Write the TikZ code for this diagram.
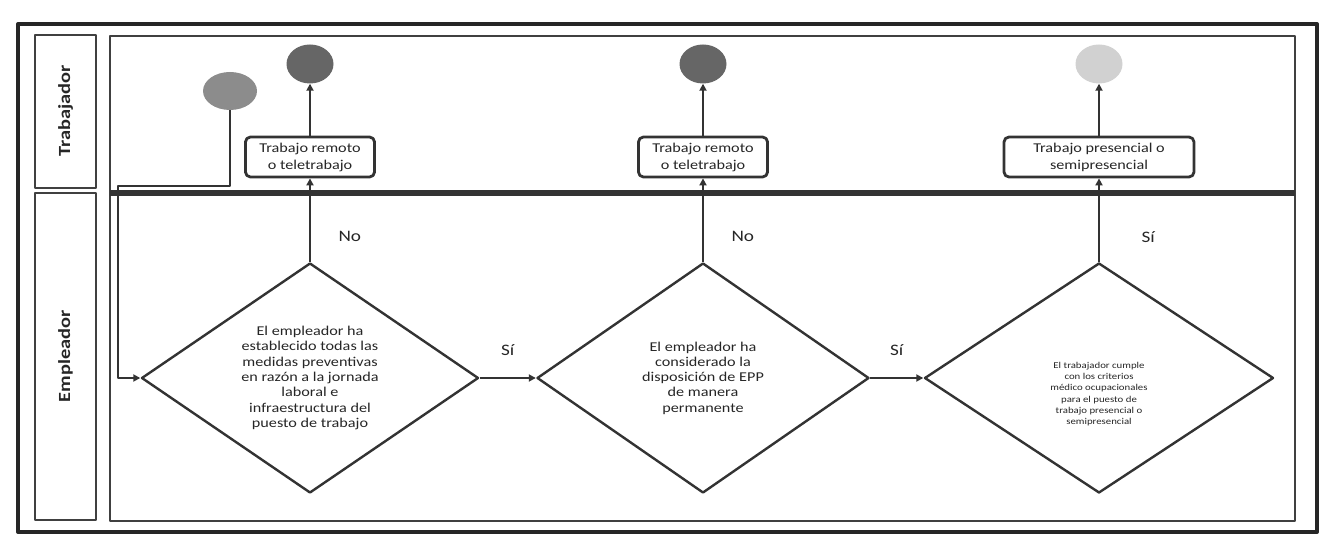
\documentclass[tikz,border=0pt]{standalone}
\usepackage{fontspec}
\setmainfont[FakeStretch=1.2]{Carlito}
\usetikzlibrary{shapes.geometric,arrows.meta,positioning}

\begin{document}
\begin{tikzpicture}[x=1pt,y=-1pt,>={Triangle[length=7pt,width=7pt]},line join=round,
   every node/.style={font=\fontsize{13.5}{17}\selectfont,align=center,text=black!85},
   decision/.style={diamond,draw=black!80,line width=2.4pt,aspect=1.46,inner sep=0pt,
     minimum height=230pt,font=\fontsize{13.5}{15.3}\selectfont},
   result/.style={rectangle,rounded corners=5pt,draw=black!80,line width=2.8pt,
     minimum height=40pt,inner xsep=14pt,fill=white},
   terminal/.style={ellipse,minimum width=47pt,minimum height=39pt,inner sep=0pt},
   flow/.style={->,draw=black!80,line width=2.4pt},
   answer/.style={font=\fontsize{16}{18}\selectfont},
   lanetitle/.style={rotate=90,font=\bfseries\fontsize{17}{20}\selectfont}]
  \useasboundingbox (0,0) rectangle (1324,553);
  % marco y carriles
  \draw[line width=4pt,black!85] (18,24) rectangle (1317,532);
  \draw[line width=2.2pt,black!75] (35,35) rectangle (96,188);
  \draw[line width=2.2pt,black!75] (35,193) rectangle (96,520);
  \draw[line width=2.2pt,black!75] (110,36) rectangle (1295,521);
  \draw[line width=5.5pt,black!80] (110,193) -- (1295,193);
  \node[lanetitle] (trab) at (65.5,111) {Trabajador};
  \node[lanetitle] (empl) at (65.5,356) {Empleador};

  \node[terminal,fill=black!45,minimum width=54pt,minimum height=38pt] (inicio) at (230,91) {};
  \node[decision,minimum width=337pt] (q1) at (310,378)
    {El empleador ha\\establecido todas las\\medidas preventivas\\en razón a la jornada\\laboral e\\infraestructura del\\puesto de trabajo};
  \node[decision,minimum width=332pt] (q2) at (703,378)
    {El empleador ha\\considerado la\\disposición de EPP\\de manera\\permanente};
  \node[decision,minimum width=349pt] (q3) at (1099,378) {};
  \node[font=\fontsize{9}{11.3}\selectfont] (q3txt) at ([yshift=-16pt]q3.center)
    {El trabajador cumple\\con los criterios\\médico ocupacionales\\para el puesto de\\trabajo presencial o\\semipresencial};

  \node[result] (r1) at (310,157) {Trabajo remoto\\o teletrabajo};
  \node[result] (r2) at (703,157) {Trabajo remoto\\o teletrabajo};
  \node[result,minimum width=190pt] (r3) at (1099,157) {Trabajo presencial o\\semipresencial};
  \node[terminal,fill=black!60] (fin1) at (310,64) {};
  \node[terminal,fill=black!60] (fin2) at (703,64) {};
  \node[terminal,fill=black!18] (fin3) at (1099,64) {};

  \coordinate (bajada) at (118,186);
  \draw[flow] (inicio.south) |- (bajada) |- (q1.west);
  \draw[flow] (q1.north) -- node[answer,pos=0.3,right=24pt] (no1) {No} (r1.south);
  \draw[flow] (r1.north) -- (fin1.south);
  \draw[flow] (q1.east) -- node[answer,above=18pt] (si1) {Sí} (q2.west);
  \draw[flow] (q2.north) -- node[answer,pos=0.3,right=24pt] (no2) {No} (r2.south);
  \draw[flow] (r2.north) -- (fin2.south);
  \draw[flow] (q2.east) -- node[answer,above=18pt] (si2) {Sí} (q3.west);
  \draw[flow] (q3.north) -- node[answer,pos=0.3,right=38pt] (si3) {Sí} (r3.south);
  \draw[flow] (r3.north) -- (fin3.south);
\end{tikzpicture}
\end{document}
